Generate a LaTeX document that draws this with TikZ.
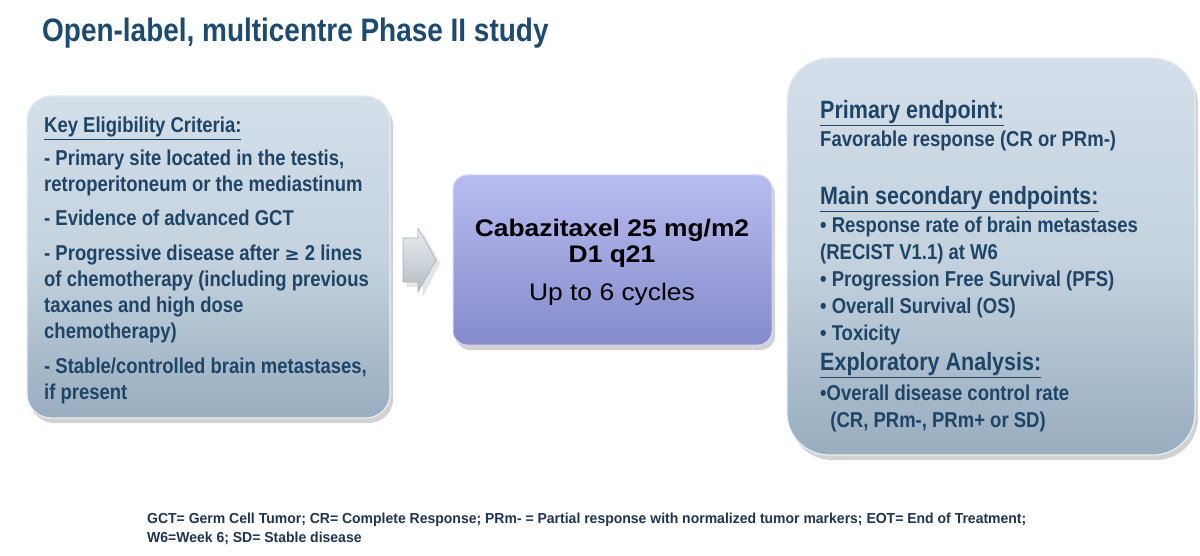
\documentclass[tikz,border=0pt]{standalone}
\usepackage{fontspec}
\setmainfont{Liberation Sans}
\newfontfamily\nf[FakeStretch=0.86]{Liberation Sans}
\newfontfamily\wf[FakeStretch=1.1]{Liberation Sans}
\newfontfamily\ff[FakeStretch=0.965]{Liberation Sans}
\usetikzlibrary{shadows}
\definecolor{titleblue}{HTML}{1D4B70}
\definecolor{txtblue}{HTML}{1E4466}
\definecolor{boxtop}{HTML}{D3DFE9}
\definecolor{boxbot}{HTML}{98ADBF}
\definecolor{boxedge}{HTML}{E8EEF3}
\definecolor{midtop}{HTML}{B7BCF0}
\definecolor{midbot}{HTML}{858BCB}
\definecolor{arrtop}{HTML}{E9EDF0}
\definecolor{arrbot}{HTML}{B3BCC4}
\definecolor{foot}{HTML}{1F3550}
\tikzset{
  panel/.style={draw=boxedge, line width=1.2pt, top color=boxtop, bottom color=boxbot, middle color=boxtop!75!boxbot,
    drop shadow={shadow xshift=3pt, shadow yshift=-5pt, opacity=0.35, fill=gray}},
  midpanel/.style={draw=midtop!60!white, line width=1pt, top color=midtop, bottom color=midbot,
    drop shadow={shadow xshift=3pt, shadow yshift=-5pt, opacity=0.35, fill=gray}},
  lefttext/.style={inner sep=0pt, anchor=north west, align=left, text=txtblue},
}
\begin{document}
\begin{tikzpicture}[x=1pt,y=-1pt]
\useasboundingbox[fill=white] (0,0) rectangle (1200,556);
% title
\node[anchor=base west, inner sep=0pt, text=titleblue, font=\nf\bfseries\fontsize{32.5}{36}\selectfont] (title) at (42,42) {Open-label, multicentre Phase II study};
% boxes
\path[panel, rounded corners=24pt] (27,96) rectangle (390,418);
\path[midpanel, rounded corners=14pt] (453,175) rectangle (772,345);
\path[panel, rounded corners=42pt] (787,58) rectangle (1195,455);
% arrow
\fill[gray!40, opacity=0.5] (406,243) -- (423,243) -- (423,233) -- (440,263) -- (423,297) -- (423,287) -- (406,287) -- cycle;
\draw[draw=arrbot!80!gray, line width=0.6pt, top color=arrtop, bottom color=arrbot, line join=round]
  (403,238) -- (418,238) -- (418,228) -- (436,260) -- (418,292) -- (418,282) -- (403,282) -- cycle;
% left text
\node[lefttext, font=\nf\bfseries\fontsize{21.5}{26}\selectfont] (left) at (44,117) {%
\underline{Key Eligibility Criteria:}\\[7pt]
- Primary site located in the testis,\\
retroperitoneum or the mediastinum\\[8pt]
- Evidence of advanced GCT\\[9pt]
- Progressive disease after {\fontspec{DejaVu Sans}\fontsize{18}{26}\selectfont ≥} 2 lines\\
of chemotherapy (including previous\\
taxanes and high dose\\
chemotherapy)\\[9pt]
- Stable/controlled brain metastases,\\
if present};
% middle text
\node[inner sep=0pt, align=center, font=\wf\bfseries\fontsize{24}{26}\selectfont] (mid) at (612,243) {Cabazitaxel 25 mg/m2\\D1 q21};
\node[inner sep=0pt, font=\wf\fontsize{24}{26}\selectfont] (mid2) at (612,294) {Up to 6 cycles};
% right text
\node[lefttext, font=\nf\bfseries\fontsize{21.5}{27}\selectfont] (right) at (820,100) {%
{\fontsize{25}{27}\selectfont\underline{Primary endpoint:}}\\[1pt]
Favorable response (CR or PRm-)\\[31pt]
{\fontsize{25}{27}\selectfont\underline{Main secondary endpoints:}}\\[1pt]
\textbullet\ Response rate of brain metastases\\
(RECIST V1.1) at W6\\
\textbullet\ Progression Free Survival (PFS)\\
\textbullet\ Overall Survival (OS)\\
\textbullet\ Toxicity\\[3pt]
{\fontsize{25}{27}\selectfont\underline{Exploratory Analysis:}}\\[3pt]
\textbullet Overall disease control rate\\
\ \ (CR, PRm-, PRm+ or SD)};
% footnote
\node[anchor=north west, inner sep=0pt, align=left, text=foot, font=\ff\bfseries\fontsize{14.5}{19}\selectfont] (fn) at (147,513) {%
GCT= Germ Cell Tumor; CR= Complete Response; PRm- = Partial response with normalized tumor markers; EOT= End of Treatment;\\
W6=Week 6; SD= Stable disease};
\end{tikzpicture}
\end{document}
